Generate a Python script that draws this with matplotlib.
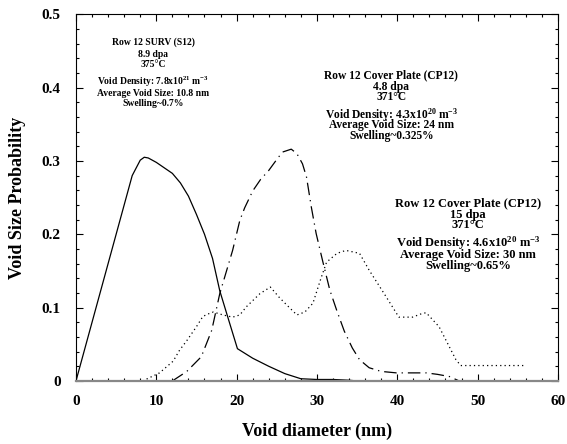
import numpy as np
import matplotlib
matplotlib.use('Agg')
import matplotlib.pyplot as plt
from matplotlib.ticker import MultipleLocator

plt.rcParams['font.family'] = 'Liberation Serif'
plt.rcParams['font.weight'] = 'bold'
plt.rcParams['mathtext.fontset'] = 'custom'
plt.rcParams['mathtext.rm'] = 'Liberation Serif:bold'
plt.rcParams['mathtext.it'] = 'Liberation Serif:bold'
plt.rcParams['mathtext.bf'] = 'Liberation Serif:bold'

# Row 12 SURV (S12), 8.9 dpa - solid
s12_x = [0, 2, 4, 6, 7, 8, 8.5, 9, 10, 12, 13, 14, 15, 16, 17, 17.9, 18.9, 20.1,
         22, 24, 26, 28, 30, 32, 34, 35]
s12_y = [0, 0.08, 0.16, 0.24, 0.28, 0.301, 0.305, 0.304, 0.298, 0.283, 0.27, 0.252,
         0.227, 0.2, 0.167, 0.123, 0.087, 0.044, 0.031, 0.02, 0.01, 0.003, 0.002,
         0.002, 0.001, 0]

# Row 12 Cover Plate (CP12), 4.8 dpa - dash-dot
cp48_x = [12, 13.8, 15.6, 16.9, 17.9, 19.5, 20.4, 21, 22, 23, 24, 25, 25.7, 26.8,
          27.5, 28.2, 28.7, 29.3, 29.9, 30.7, 31.6, 32.5, 33.4, 34.4, 35.3, 36.5,
          38, 39.9, 42, 43.6, 45, 46.5, 47.7]
cp48_y = [0, 0.013, 0.033, 0.069, 0.119, 0.178, 0.219, 0.236, 0.259, 0.275, 0.287,
          0.302, 0.312, 0.316, 0.31, 0.296, 0.278, 0.237, 0.201, 0.164, 0.124, 0.095,
          0.068, 0.045, 0.029, 0.018, 0.013, 0.011, 0.011, 0.011, 0.009, 0.006, 0]

# Row 12 Cover Plate (CP12), 15 dpa - dotted
cp15_x = [8.3, 10.4, 12.1, 12.9, 13.8, 15, 15.8, 16.6, 17.1, 18.3, 19.5, 20.4, 21.2,
          22.9, 24.2, 25.3, 26.2, 27.5, 28.5, 29.5, 30.5, 31.2, 32.5, 33.6, 35.3,
          36.5, 38.6, 40.2, 41.9, 43.1, 43.6, 45.2, 47.3, 47.9, 50, 52, 54, 55.8]
cp15_y = [0, 0.011, 0.027, 0.042, 0.055, 0.074, 0.088, 0.092, 0.094, 0.09, 0.087,
          0.09, 0.101, 0.119, 0.128, 0.114, 0.104, 0.09, 0.094, 0.106, 0.14, 0.162,
          0.174, 0.178, 0.174, 0.151, 0.115, 0.087, 0.087, 0.092, 0.093, 0.074,
          0.029, 0.021, 0.021, 0.021, 0.021, 0.021]

s12_lines = ['Row 12 SURV (S12)', '8.9 dpa', '375°C',
             'Void Density: 7.8x10$^{21}$ m$^{-3}$', 'Average Void Size: 10.8 nm',
             'Swelling~0.7%']
cp48_lines = ['Row 12 Cover Plate (CP12)', '4.8 dpa', '371°C',
              'Void Density: 4.3x10$^{20}$ m$^{-3}$', 'Average Void Size: 24 nm',
              'Swelling~0.325%']
cp15_lines = ['Row 12 Cover Plate (CP12)', '15 dpa', '371°C',
              'Void Density: 4.6x10$^{20}$ m$^{-3}$', 'Average Void Size: 30 nm',
              'Swelling~0.65%']

fig = plt.figure(figsize=(5.67, 4.44), dpi=100)
ax = fig.add_axes([0.134, 0.142, 0.850, 0.826])

ax.plot(s12_x, s12_y, color='black', linewidth=0.9)
ax.plot(cp48_x, cp48_y, color='black', linewidth=0.9, dashes=(10, 4, 1, 4))
ax.plot(cp15_x, cp15_y, color='black', linewidth=0.9, linestyle=(0, (1, 2.5)))

ax.set_xlim(0, 60)
ax.set_ylim(0, 0.5)
ax.xaxis.set_major_locator(MultipleLocator(10))
ax.xaxis.set_minor_locator(MultipleLocator(2))
ax.yaxis.set_major_locator(MultipleLocator(0.1))
ax.yaxis.set_minor_locator(MultipleLocator(0.02))
ax.set_yticks([0, 0.1, 0.2, 0.3, 0.4, 0.5])
ax.set_yticklabels(['0', '0.1', '0.2', '0.3', '0.4', '0.5'])
ax.tick_params(which='both', direction='in', top=True, right=True, labelsize=11)
ax.tick_params(axis='y', pad=11)
ax.tick_params(axis='x', pad=10)
ax.tick_params(which='major', length=5, width=0.8)
ax.tick_params(which='minor', length=2.5, width=0.8)
ax.spines['bottom'].set_color('#888888')
ax.spines['bottom'].set_linewidth(1.6)

ax.set_xlabel('Void diameter (nm)', fontsize=13, fontweight='bold', labelpad=11)
ax.set_ylabel('Void Size Probability', fontsize=13, fontweight='bold', labelpad=11)

# annotation blocks, one text per line
def put_block(x, ys, lines, size):
    for yy, s in zip(ys, lines):
        ax.text(x, yy, s, ha='center', va='center', fontsize=size, fontweight='bold')

put_block(9.63, [0.4615, 0.4456, 0.4311, 0.4083, 0.3925, 0.3788], s12_lines, 6.9)
put_block(39.25, [0.4171, 0.4011, 0.3875, 0.3625, 0.3488, 0.3342], cp48_lines, 8.3)
put_block(48.8, [0.2428, 0.2269, 0.2132, 0.1883, 0.1723, 0.1573], cp15_lines, 9.0)

fig.savefig('out.png', dpi=100, facecolor='white')
